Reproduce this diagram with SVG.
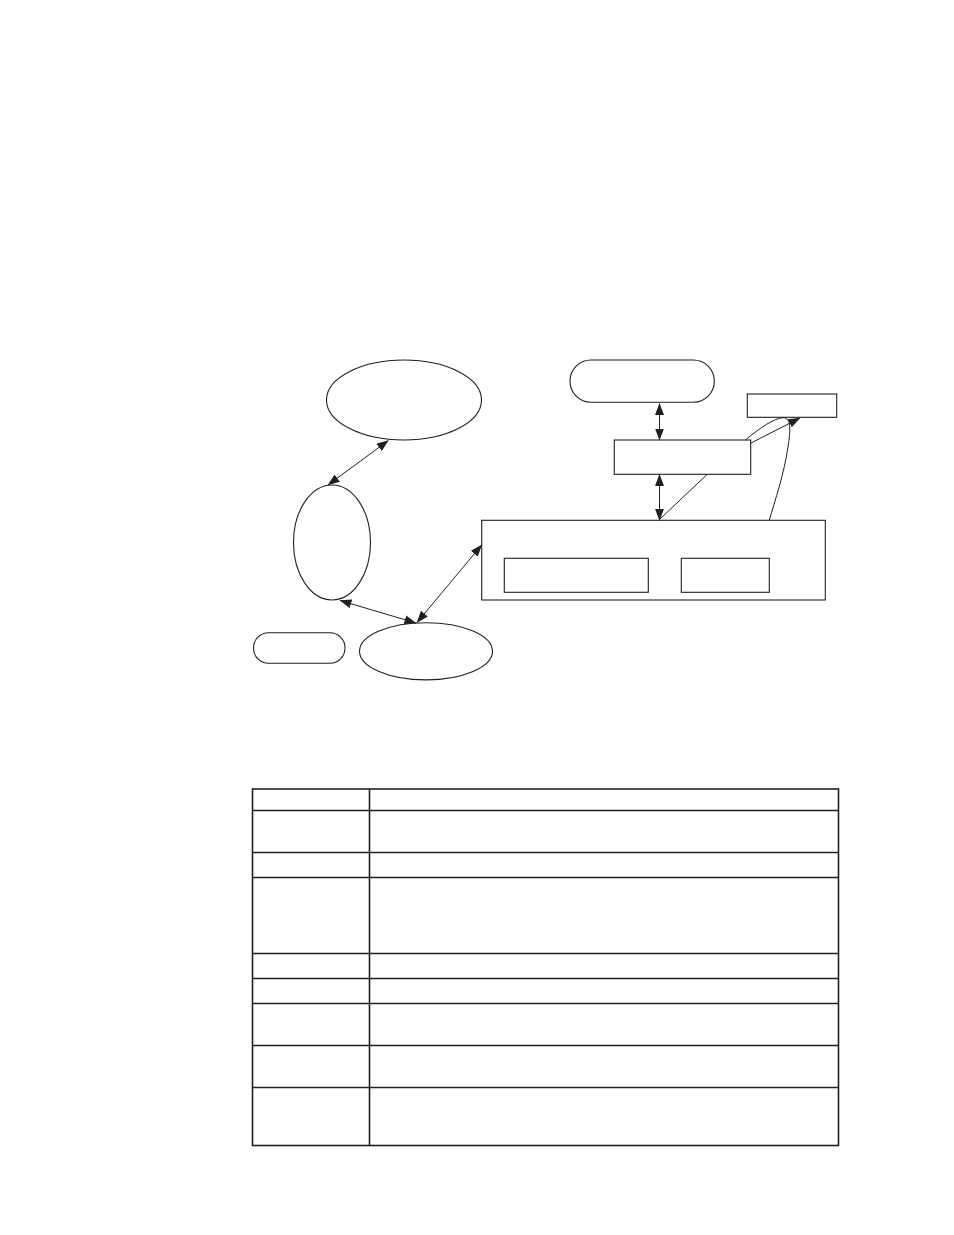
<svg xmlns="http://www.w3.org/2000/svg" width="954" height="1235" viewBox="0 0 954 1235">
<style>
.n{fill:none;stroke:#231f20;stroke-width:1.1}
.t{fill:none;stroke:#231f20;stroke-width:1.6}
.c{fill:none;stroke:#231f20;stroke-width:1}
</style>
<defs>
<marker id="ah" markerUnits="userSpaceOnUse" markerWidth="12" markerHeight="9" refX="11.5" refY="4.5" orient="auto-start-reverse">
<path d="M0,0 L12,4.5 L0,9 z" fill="#231f20"/>
</marker>
</defs>
<rect width="954" height="1235" fill="#ffffff"/>
<g id="ellipse-top"><ellipse class="n" cx="404" cy="400" rx="77.5" ry="40"/></g>
<g id="ellipse-left"><ellipse class="n" cx="332" cy="542.5" rx="38.5" ry="57.5"/></g>
<g id="ellipse-bottom"><ellipse class="n" cx="426" cy="651.3" rx="66.5" ry="28.6"/></g>
<g id="pill-left"><rect class="n" x="253.5" y="632.8" width="91.5" height="30.5" rx="15" ry="15"/></g>
<g id="pill-top"><rect class="n" x="570" y="360" width="144.3" height="42.3" rx="21" ry="21"/></g>
<g id="box-small"><rect class="n" x="747.3" y="394" width="89.4" height="23.3"/></g>
<g id="box-middle"><rect class="n" x="614.3" y="440" width="136.4" height="34.3"/></g>
<g id="box-big"><rect class="n" x="481.7" y="520.3" width="343.6" height="79.7"/></g>
<g id="box-inner-1"><rect class="n" x="504.3" y="558.3" width="144" height="34"/></g>
<g id="box-inner-2"><rect class="n" x="681.3" y="558.3" width="88" height="34"/></g>
<g id="connectors">
<line class="c" x1="388.3" y1="440.5" x2="328" y2="485" marker-start="url(#ah)" marker-end="url(#ah)"/>
<line class="c" x1="340" y1="600.5" x2="416" y2="623" marker-start="url(#ah)" marker-end="url(#ah)"/>
<line class="c" x1="417" y1="622.5" x2="481.7" y2="545" marker-start="url(#ah)" marker-end="url(#ah)"/>
<line class="c" x1="659.5" y1="403.5" x2="659.5" y2="440" marker-start="url(#ah)" marker-end="url(#ah)"/>
<line class="c" x1="659.5" y1="474.5" x2="659.5" y2="520.3" marker-start="url(#ah)" marker-end="url(#ah)"/>
<line class="c" x1="707" y1="474.5" x2="660" y2="519"/>
<line class="c" x1="751" y1="443" x2="800" y2="418" marker-end="url(#ah)"/>
<path class="c" d="M745.3,440 C760,428 774,418 783.3,417.7 C792,417.5 790,433 788.3,445 C784,475 775,500 769.3,520.3"/>
</g>
<g id="table">
<rect class="t" x="252.5" y="789" width="586" height="356.5"/>
<line class="t" x1="369.5" y1="789" x2="369.5" y2="1145.5"/>
<line class="t" x1="252.5" y1="810.5" x2="838.5" y2="810.5"/>
<line class="t" x1="252.5" y1="852.5" x2="838.5" y2="852.5"/>
<line class="t" x1="252.5" y1="877.5" x2="838.5" y2="877.5"/>
<line class="t" x1="252.5" y1="953.5" x2="838.5" y2="953.5"/>
<line class="t" x1="252.5" y1="978.5" x2="838.5" y2="978.5"/>
<line class="t" x1="252.5" y1="1003.5" x2="838.5" y2="1003.5"/>
<line class="t" x1="252.5" y1="1045.5" x2="838.5" y2="1045.5"/>
<line class="t" x1="252.5" y1="1087.5" x2="838.5" y2="1087.5"/>
</g>
</svg>
